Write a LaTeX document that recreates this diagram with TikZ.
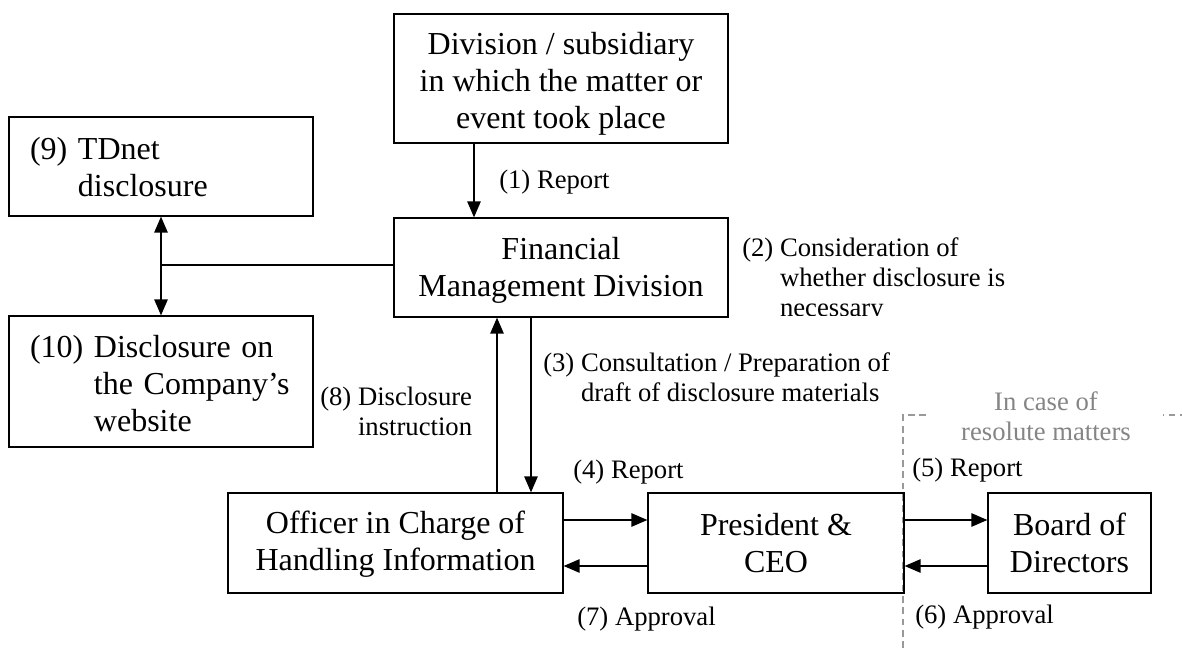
\documentclass[tikz,border=0pt]{standalone}
\usepackage{fontspec}
\setmainfont{Liberation Serif}
\usetikzlibrary{arrows.meta,calc}
\newcommand{\lowerby}[2]{\raisebox{-#1}[\height][\depth]{#2}}
\begin{document}
\begin{tikzpicture}[x=0.75pt,y=-0.75pt,
  box/.style={draw, line width=0.9pt, inner sep=0pt, align=center, font=\fontsize{24}{27.75}\selectfont},
  leftbox/.style={box, inner xsep=15.75pt, text width=196.5pt, align=left},
  lbl/.style={inner sep=0pt, anchor=west, align=left, font=\fontsize{20}{22.5}\selectfont},
  arr/.style={line width=1.2pt, -{Triangle[length=12pt,width=10pt]}},
  arrboth/.style={line width=1.2pt, {Triangle[length=12pt,width=10pt]}-{Triangle[length=12pt,width=10pt]}},
  conn/.style={line width=1.2pt},
  casebox/.style={draw=black!40, line width=0.9pt, dash pattern=on 5pt off 3.5pt},
  casetext/.style={fill=white, text=black!48, inner xsep=24pt, inner ysep=2pt, align=center, font=\fontsize{20}{22.5}\selectfont}]
\useasboundingbox (0,0) rectangle (1182,648);

% dashed region
\coordinate (dcorner) at (903,415);
\coordinate (dbottom) at (903,648);
\coordinate (dright) at (1182,415);
\draw[casebox] (dbottom) -- (dcorner) -- (dright);
\node[casetext] (case) at (1046,416) {In case of\\resolute matters};

% boxes
\node[box, minimum width=250.5pt, minimum height=96.75pt] (top) at (561,78.5)
  {\lowerby{4.5pt}{\begin{tabular}{@{}c@{}}Division / subsidiary\\in which the matter or\\event took place\end{tabular}}};
\node[box, minimum width=250.5pt, minimum height=74.25pt] (fmd) at (561,267.5)
  {\lowerby{2pt}{\begin{tabular}{@{}c@{}}Financial\\Management Division\end{tabular}}};
\node[leftbox, minimum width=228pt, minimum height=74.25pt] (tdnet) at (161,166.5)
  {\lowerby{3pt}{\begin{tabular}{@{}l@{\ }l@{}}(9)&TDnet\\&disclosure\end{tabular}}};
\node[leftbox, minimum width=228pt, minimum height=98.25pt] (web) at (161,381.5)
  {\lowerby{4.5pt}{\begin{tabular}{@{}l@{\ }l@{}}(10)&Disclosure on\\&the Company’s\\&website\end{tabular}}};
\node[box, minimum width=251.25pt, minimum height=75pt] (officer) at (395.5,543)
  {\lowerby{1pt}{\begin{tabular}{@{}c@{}}Officer in Charge of\\Handling Information\end{tabular}}};
\node[box, minimum width=192pt, minimum height=75pt] (pres) at (776,543)
  {President \&\\CEO};
\node[box, minimum width=122.25pt, minimum height=75pt] (board) at (1069.5,543)
  {Board of\\Directors};

% connectors
\coordinate (c1) at (474,0);
\coordinate (c8) at (497,0);
\coordinate (c3) at (531,0);
\coordinate (r0) at (0,265);
\coordinate (r1) at (0,520);
\coordinate (r2) at (0,566);
\draw[arr] (top.south -| c1) -- (fmd.north -| c1);
\draw[conn] (fmd.west |- r0) -- (tdnet.south |- r0);
\draw[arrboth] (tdnet.south) -- (web.north);
\draw[arr] (officer.north -| c8) -- (fmd.south -| c8);
\draw[arr] (fmd.south -| c3) -- (officer.north -| c3);
\draw[arr] (officer.east |- r1) -- (pres.west |- r1);
\draw[arr] (pres.west |- r2) -- (officer.east |- r2);
\draw[arr] (pres.east |- r1) -- (board.west |- r1);
\draw[arr] (board.west |- r2) -- (pres.east |- r2);

% labels
\node[lbl] (l1) at (499,182) {(1) Report};
\begin{scope}
  \clip (700,200) rectangle (1150,316);
  \node[lbl] (l2) at (742,281)
    {\begin{tabular}{@{}l@{\ }l@{}}(2)&Consideration of\\&whether disclosure is\\&necessary\end{tabular}};
\end{scope}
\node[lbl] (l3) at (543,381)
  {\begin{tabular}{@{}l@{\ }l@{}}(3)&Consultation / Preparation of\\&draft of disclosure materials\end{tabular}};
\node[lbl] (l8) at (320,415)
  {\begin{tabular}{@{}l@{\ }l@{}}(8)&Disclosure\\&instruction\end{tabular}};
\node[lbl] (l4) at (573,472) {(4) Report};
\node[lbl] (l5) at (912,470) {(5) Report};
\node[lbl] (l6) at (915,617) {(6) Approval};
\node[lbl] (l7) at (577,619) {(7) Approval};
\end{tikzpicture}
\end{document}
